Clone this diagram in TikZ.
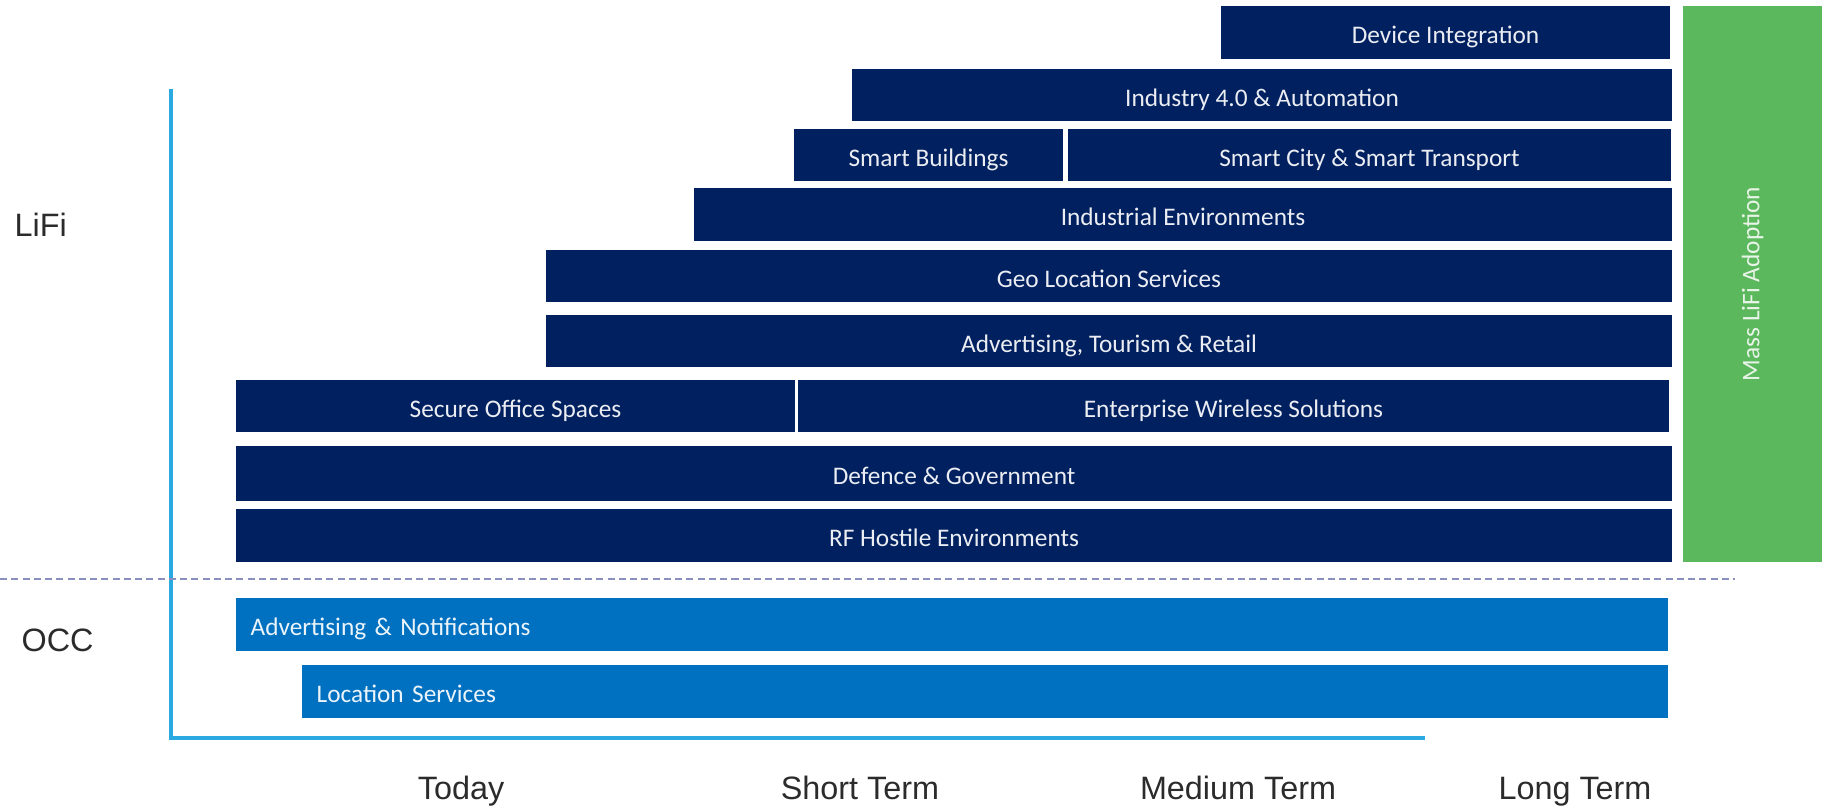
\documentclass[tikz,border=0pt]{standalone}
\usepackage{fontspec}
\setmainfont{Liberation Sans}
\newfontfamily\barfont{Carlito}

\definecolor{lifiblue}{HTML}{002060}
\definecolor{occblue}{HTML}{0070C0}
\definecolor{massgreen}{HTML}{5CB85C}
\definecolor{axisblue}{HTML}{2AAAE1}
\definecolor{divgray}{HTML}{8A8FBF}
\definecolor{labelgray}{HTML}{2B2B2B}

\begin{document}
\begin{tikzpicture}[x=0.01cm,y=-0.01cm,
  lifibar/.style={fill=lifiblue,text=white!92!lifiblue,inner sep=0pt,minimum height=0.52cm,text height=0.64em,text depth=0pt,font=\barfont\fontsize{7.2}{8}\selectfont},
  occbar/.style={fill=occblue,text=white!92!occblue,inner ysep=0pt,inner xsep=0.15cm,minimum height=0.53cm,text height=0.64em,text depth=0pt,align=left,font=\barfont\fontsize{7.2}{8}\selectfont},
  axislabel/.style={text=labelgray,inner sep=0pt,font=\fontsize{9.2}{11}\selectfont}]

\useasboundingbox (0,0) rectangle (1822,808);

% axis
\coordinate (axtop) at (171,89);
\coordinate (axcorner) at (171,738);
\coordinate (axend) at (1425,738);
\draw[axisblue,line width=1pt] (axtop)--(axcorner)--(axend);

% LiFi bars
\node[lifibar,minimum width=4.49cm] (devint) at (1445.5,32.5) {Device Integration};
\node[lifibar,minimum width=8.20cm] (industry) at (1262,95) {Industry 4.0 \& Automation};
\node[lifibar,minimum width=2.69cm] (smartbuild) at (928.5,155) {Smart Buildings};
\node[lifibar,minimum width=6.03cm] (smartcity) at (1369.5,155) {Smart City \& Smart Transport};
\node[lifibar,minimum width=9.78cm,minimum height=0.53cm] (industrial) at (1183,214.5) {Industrial Environments};
\node[lifibar,minimum width=11.26cm] (geo) at (1109,276) {Geo Location Services};
\node[lifibar,minimum width=11.26cm] (adtour) at (1109,341) {Advertising, Tourism \& Retail};
\node[lifibar,minimum width=5.59cm] (secure) at (515.5,406) {Secure Office Spaces};
\node[lifibar,minimum width=8.71cm] (enterprise) at (1233.5,406) {Enterprise Wireless Solutions};
\node[lifibar,minimum width=14.36cm,minimum height=0.55cm] (defence) at (954,473.5) {Defence \& Government};
\node[lifibar,minimum width=14.36cm,minimum height=0.53cm] (rfhostile) at (954,535.5) {RF Hostile Environments};

% adoption
\node[fill=massgreen,inner sep=0pt,minimum width=1.39cm,minimum height=5.56cm] (mass) at (1752.5,284) {};
\node[rotate=90,text=white!85!massgreen,font=\barfont\fontsize{7.2}{8}\selectfont] (masstext) at (mass.center) {Mass LiFi Adoption};

% divider
\coordinate (divl) at (0,579);
\coordinate (divr) at (1735,579);
\draw[divgray,line width=0.6pt,dash pattern=on 2pt off 1.2pt] (divl)--(divr);

% OCC bars
\node[occbar,text width=14.02cm] (adnotif) at (952,624.5) {Advertising \& Notifications};
\node[occbar,text width=13.36cm] (locserv) at (985,691.5) {Location Services};

% labels
\node[axislabel,anchor=base west] (lifi) at (14,236) {LiFi};
\node[axislabel,anchor=base west] (occ) at (21,651) {OCC};
\node[axislabel,anchor=base] (today) at (461,799) {Today};
\node[axislabel,anchor=base] (short) at (860,799) {Short Term};
\node[axislabel,anchor=base] (medium) at (1238,799) {Medium Term};
\node[axislabel,anchor=base] (long) at (1575,799) {Long Term};

\end{tikzpicture}
\end{document}
